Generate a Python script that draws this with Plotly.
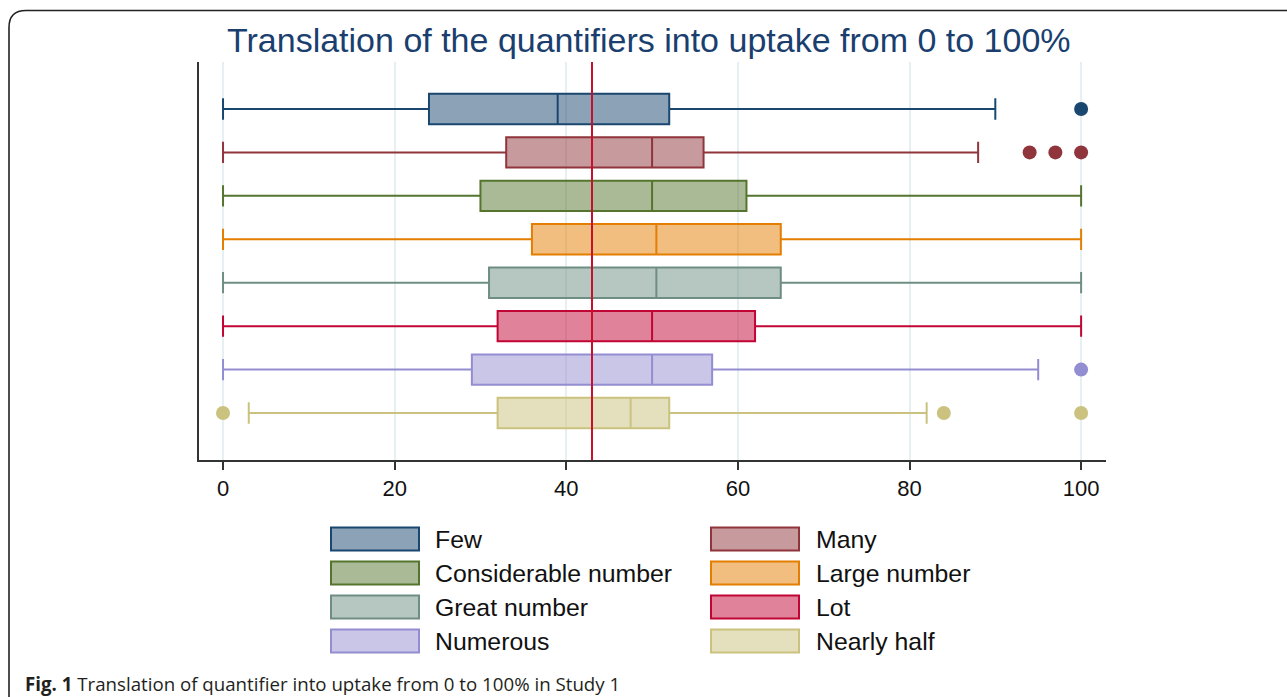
import plotly.graph_objects as go

# ---------------- data ----------------
categories = ["Few", "Many", "Considerable number", "Large number",
              "Great number", "Lot", "Numerous", "Nearly half"]
lower_whisker = [0, 0, 0, 0, 0, 0, 0, 3]
q1_values = [24, 33, 30, 36, 31, 32, 29, 32]
median_values = [39, 50, 50, 50.5, 50.5, 50, 50, 47.5]
q3_values = [52, 56, 61, 65, 65, 62, 57, 52]
upper_whisker = [90, 88, 100, 100, 100, 100, 95, 82]
outliers = [[100], [94, 97, 100], [], [], [], [], [100], [0, 84, 100]]
overall_reference = 43
x_ticks = [0, 20, 40, 60, 80, 100]

colors = ["#1a476f", "#90353b", "#55752f", "#e37e00",
          "#6e8e84", "#c10534", "#938dd2", "#cac27e"]


def rgba(hexc, a):
    h = hexc.lstrip("#")
    r, g, b = int(h[0:2], 16), int(h[2:4], 16), int(h[4:6], 16)
    return f"rgba({r},{g},{b},{a})"


W, H = 1287, 697
L, R, T, B = 199, 181, 62, 237
PW, PH = W - L - R, H - T - B


def px(x):
    return (x - L) / PW


def py(y):
    return (H - B - y) / PH


fig = go.Figure()

for i, cat in enumerate(categories):
    fig.add_trace(go.Box(
        y=[cat], q1=[q1_values[i]], median=[median_values[i]], q3=[q3_values[i]],
        lowerfence=[lower_whisker[i]], upperfence=[upper_whisker[i]],
        orientation="h", name=cat, boxpoints=False,
        fillcolor=rgba(colors[i], 0.5),
        line=dict(color=colors[i], width=2),
        width=0.7, whiskerwidth=0.7, showlegend=False, hoverinfo="skip",
    ))
    if outliers[i]:
        fig.add_trace(go.Scatter(
            x=outliers[i], y=[cat] * len(outliers[i]), mode="markers",
            marker=dict(color=colors[i], size=14, line=dict(width=0)),
            showlegend=False, hoverinfo="skip",
        ))

shapes = []
# reference line
shapes.append(dict(type="line", xref="x", yref="paper", x0=overall_reference,
                   x1=overall_reference, y0=0, y1=1,
                   line=dict(color="#c8102e", width=2), layer="above"))

# outer frame with rounded top-left corner
fx, fy, rad = 9, 10.5, 17
path = (f"M{px(fx)},{py(H + 10)} L{px(fx)},{py(fy + rad)} "
        f"Q{px(fx)},{py(fy)} {px(fx + rad)},{py(fy)} L{px(W + 20)},{py(fy)}")
shapes.append(dict(type="path", xref="paper", yref="paper", path=path,
                   line=dict(color="#222222", width=1.6)))

annotations = []
# manual legend (two columns)
col_rect_x = [331, 711]
col_text_x = [433, 814]
row_y = [539, 573, 607, 641]
for i, cat in enumerate(categories):
    col, row = i % 2, i // 2
    x0 = col_rect_x[col]
    yc = row_y[row]
    shapes.append(dict(type="rect", xref="paper", yref="paper",
                       x0=px(x0), x1=px(x0 + 88), y0=py(yc + 11.5), y1=py(yc - 11.5),
                       fillcolor=rgba(colors[i], 0.5),
                       line=dict(color=colors[i], width=2)))
    annotations.append(dict(text=cat, xref="paper", yref="paper",
                            x=px(col_text_x[col]), y=py(yc), xanchor="left",
                            yanchor="middle", showarrow=False,
                            font=dict(family="Liberation Sans, Arial", size=24.8,
                                      color="#111111")))

annotations.append(dict(
    text="Translation of the quantifiers into uptake from 0 to 100%",
    xref="paper", yref="paper", x=px(648.5), y=py(40), xanchor="center",
    yanchor="middle", showarrow=False,
    font=dict(family="Liberation Sans, Arial", size=34, color="#1a3f6f")))

annotations.append(dict(
    text="<b>Fig. 1</b> Translation of quantifier into uptake from 0 to 100% in Study 1",
    xref="paper", yref="paper", x=px(23), y=py(683), xanchor="left",
    yanchor="middle", showarrow=False,
    font=dict(family="Open Sans", size=18.7, color="#231f20")))

fig.update_layout(
    width=W, height=H,
    margin=dict(l=L, r=R, t=T, b=B, pad=0),
    paper_bgcolor="white", plot_bgcolor="white",
    shapes=shapes, annotations=annotations,
    showlegend=False,
    xaxis=dict(range=[-2.8, 102.9], tickvals=x_ticks,
               ticktext=[str(t) for t in x_ticks],
               showgrid=True, gridcolor="#e6eff1", gridwidth=1.5,
               zeroline=False, showline=True, linecolor="#333333", linewidth=2,
               ticks="outside", ticklen=8, tickwidth=1.6, tickcolor="#333333",
               tickfont=dict(family="Liberation Sans, Arial", size=22, color="#111111")),
    yaxis=dict(categoryorder="array", categoryarray=categories,
               range=[len(categories) - 1 + 1.082, -1.082],
               showticklabels=False, showgrid=False, zeroline=False,
               showline=True, linecolor="#333333", linewidth=2, ticks=""),
)

fig.write_html(
    "out.html",
    config={"displayModeBar": False},
    post_script="document.body.style.margin='0';document.body.style.overflow='hidden';",
)
